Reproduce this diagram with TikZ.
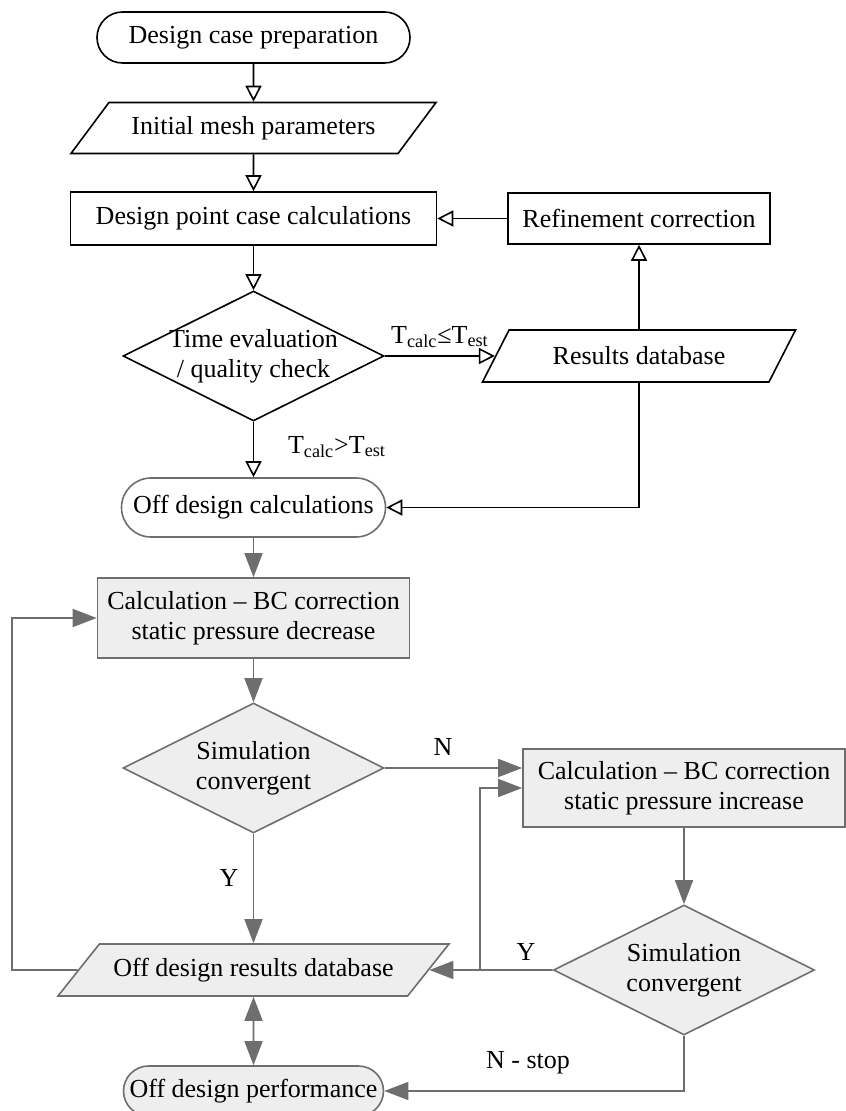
\documentclass[tikz,border=0pt]{standalone}
\usepackage{fontspec}
\setmainfont{Liberation Serif}
\usetikzlibrary{arrows.meta,shapes.geometric}

\definecolor{flowgray}{HTML}{6E6E6E}
\definecolor{fillgray}{HTML}{EEEEEE}

\begin{document}
\begin{tikzpicture}[x=0.5pt,y=-0.5pt,font=\fontsize{13}{15}\selectfont,
  box/.style={draw,line width=0.8pt,align=center,inner sep=1pt},
  startstop/.style={box,rounded corners=#1},
  datain/.style={box,trapezium,trapezium stretches body},
  process/.style={box,rectangle},
  decision/.style={box,diamond,aspect=2,minimum width=130.5pt,minimum height=65pt,inner sep=-1.5pt},
  offstyle/.style={draw=flowgray,fill=fillgray},
  openarr/.style={line width=0.8pt,-{Triangle[open,length=8pt,width=8pt]}},
  fillarr/.style={draw=flowgray,line width=0.8pt,-{Triangle[length=12pt,width=9pt]}}]
  \useasboundingbox (0,0) rectangle (845,1111);

  % Design point loop
  \node[startstop=12.75pt,minimum width=156.5pt,minimum height=25.5pt] (prep) at (253.5,37.5) {Design case preparation};
  \node[datain,trapezium left angle=36,trapezium right angle=144,minimum width=182.5pt,minimum height=25.5pt] (mesh) at (253.5,128) {Initial mesh parameters};
  \node[process,minimum width=183pt,minimum height=26.5pt] (point) at (253.5,218.5) {Design point case calculations};
  \node[process,minimum width=131pt,minimum height=25.5pt] (refine) at (639,218.5) {Refinement correction};
  \node[decision] (timechk) at (253.5,356) {Time evaluation\\/ quality check};
  \node[datain,trapezium left angle=40,trapezium right angle=140,minimum width=156.5pt,minimum height=26pt] (results) at (639,356) {Results database};
  \node[startstop=14.75pt,draw=flowgray,minimum width=132pt,minimum height=29.5pt] (offcalc) at (253.5,507.5) {Off design calculations};

  \node (tle) at (440,337) {T\textsubscript{calc}≤T\textsubscript{est}};
  \node (tgt) at (337,447) {T\textsubscript{calc}>T\textsubscript{est}};

  \draw[openarr] (prep) -- (mesh);
  \draw[openarr] (mesh) -- (point);
  \draw[openarr] (point) -- (timechk);
  \draw[openarr] (timechk) -- (results);
  \draw[openarr] (results) -- (refine);
  \draw[openarr] (refine) -- (point);
  \draw[openarr] (timechk) -- (offcalc);
  \draw[openarr] (results.south) |- (offcalc.east);

  % Off design loop
  \node[process,offstyle,minimum width=156pt,minimum height=40pt] (decr) at (253.5,618) {Calculation – BC correction\\static pressure decrease};
  \node[decision,offstyle] (conv1) at (253.5,768) {Simulation\\convergent};
  \node[process,offstyle,minimum width=161pt,minimum height=39pt] (incr) at (684,788) {Calculation – BC correction\\static pressure increase};
  \node[decision,offstyle] (conv2) at (684,970) {Simulation\\convergent};
  \node[datain,offstyle,trapezium left angle=34,trapezium right angle=146,minimum width=195.5pt,minimum height=26pt] (offdb) at (253.5,970) {Off design results database};
  \node[startstop=12.5pt,offstyle,minimum width=130pt,minimum height=25pt] (offperf) at (253.5,1091) {Off design performance};

  \node (nlab) at (443,747) {N};
  \node (ylab1) at (229,878) {Y};
  \node (ylab2) at (526,952) {Y};
  \node (stoplab) at (528,1063) {N - stop};

  \coordinate (yjoin) at (480,970);
  \coordinate (loopleft) at (12,970);

  \draw[fillarr] (offcalc) -- (decr);
  \draw[fillarr] (decr) -- (conv1);
  \draw[fillarr] (conv1.east) -- (conv1.east -| incr.west);
  \draw[fillarr] (conv1) -- (offdb);
  \draw[fillarr] (incr) -- (conv2);
  \draw[fillarr] (conv2) -- (offdb);
  \draw[fillarr] (yjoin) |- (incr.west);
  \draw[fillarr] (offdb.west) -- (loopleft) |- (decr.west);
  \draw[fillarr,{Triangle[length=12pt,width=9pt]}-{Triangle[length=12pt,width=9pt]}] (offdb) -- (offperf);
  \draw[fillarr] (conv2.south) |- (offperf.east);
\end{tikzpicture}
\end{document}
